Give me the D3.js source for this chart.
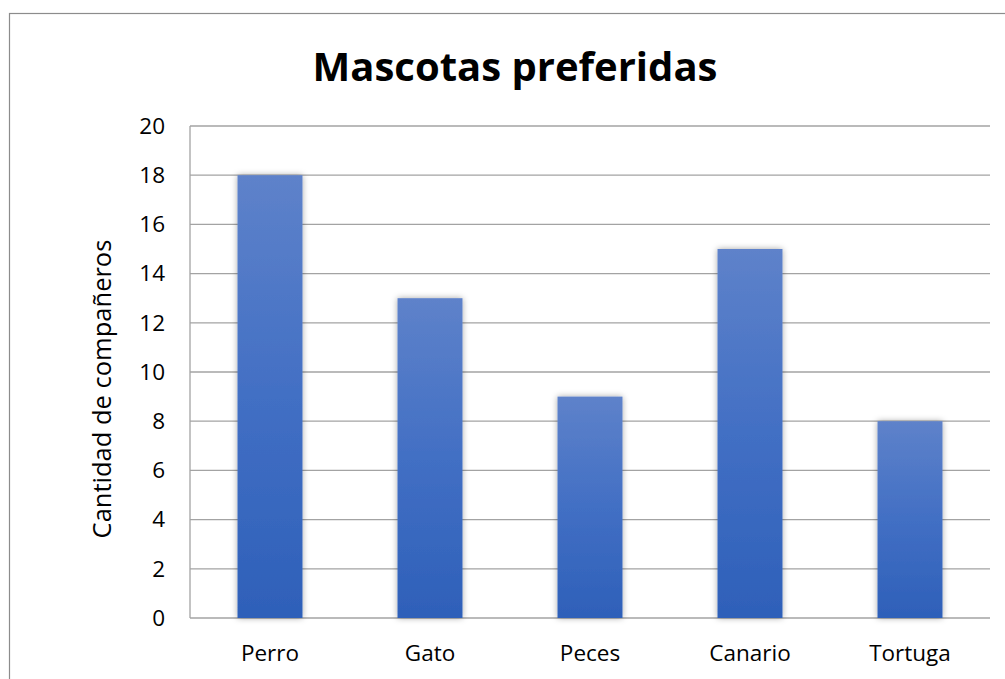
<!DOCTYPE html>
<html>
<head>
<meta charset="utf-8">
<script src="https://cdn.jsdelivr.net/npm/d3@7"></script>
<style>
  html, body { margin: 0; padding: 0; background: #fff; }
  svg { display: block; }
  text { font-family: "Open Sans", "Noto Sans", sans-serif; fill: #000; }
</style>
</head>
<body>
<svg id="chart" width="1005" height="679"></svg>
<script>
const categories = ["Perro", "Gato", "Peces", "Canario", "Tortuga"];
const values = [18, 13, 9, 15, 8];
const yTicks = [0, 2, 4, 6, 8, 10, 12, 14, 16, 18, 20];
const title = "Mascotas preferidas";
const yTitle = "Cantidad de compañeros";

const svg = d3.select("#chart");
const W = 1005, H = 679;
const m = { left: 190, right: 15, top: 126, bottom: 61 };

// outer chart border
svg.append("rect").attr("x", 9.5).attr("y", 13.5)
  .attr("width", W + 10).attr("height", H + 10)
  .attr("fill", "#fff").attr("stroke", "#8c8c8c").attr("stroke-width", 1.2);

const defs = svg.append("defs");
const grad = defs.append("linearGradient").attr("id", "barGrad")
  .attr("x1", 0).attr("y1", 0).attr("x2", 0).attr("y2", 1);
grad.append("stop").attr("offset", "0%").attr("stop-color", "#5e82ca");
grad.append("stop").attr("offset", "50%").attr("stop-color", "#426fc4");
grad.append("stop").attr("offset", "100%").attr("stop-color", "#2e60b9");
const f = defs.append("filter").attr("id", "shadow")
  .attr("x", "-30%").attr("y", "-10%").attr("width", "160%").attr("height", "120%");
f.append("feDropShadow").attr("dx", 0).attr("dy", 0).attr("stdDeviation", 3)
  .attr("flood-color", "#000").attr("flood-opacity", 0.35);

const x = d3.scaleBand().domain(categories)
  .range([m.left, W - m.right]).paddingInner(0.594).paddingOuter(0.297);
const y = d3.scaleLinear().domain([0, 20]).range([H - m.bottom, m.top]);

// gridlines
svg.append("g").selectAll("line").data(yTicks).join("line")
  .attr("x1", m.left).attr("x2", W - m.right)
  .attr("y1", d => y(d)).attr("y2", d => y(d))
  .attr("stroke", "#a3a3a3").attr("stroke-width", 1.3);

// left axis line
svg.append("line").attr("x1", m.left).attr("x2", m.left)
  .attr("y1", y(20)).attr("y2", y(0))
  .attr("stroke", "#a3a3a3").attr("stroke-width", 1.3);

// bars
svg.append("g").selectAll("rect").data(categories).join("rect")
  .attr("x", d => x(d)).attr("width", x.bandwidth())
  .attr("y", (d, i) => y(values[i]))
  .attr("height", (d, i) => y(0) - y(values[i]))
  .attr("fill", "url(#barGrad)")
  .attr("filter", "url(#shadow)");

// y axis labels
const yAxis = d3.axisLeft(y).tickValues(yTicks).tickSize(0).tickPadding(0);
const gy = svg.append("g").attr("transform", `translate(${m.left - 25},0)`).call(yAxis);
gy.select(".domain").remove();
gy.selectAll("text").attr("font-size", 22.5).attr("font-family", "Open Sans, sans-serif").attr("fill", "#000");

// x axis labels
const xAxis = d3.axisBottom(x).tickSize(0).tickPadding(0);
const gx = svg.append("g").attr("transform", `translate(0,${H - m.bottom + 27})`).call(xAxis);
gx.select(".domain").remove();
gx.selectAll("text").attr("font-size", 22.5).attr("font-family", "Open Sans, sans-serif").attr("fill", "#000");

// title
svg.append("text").attr("x", 515).attr("y", 81)
  .attr("text-anchor", "middle").attr("font-size", 40).attr("font-weight", "bold")
  .text(title);

// y title
svg.append("text")
  .attr("transform", `translate(111,389) rotate(-90)`)
  .attr("text-anchor", "middle").attr("font-size", 25.5)
  .text(yTitle);
</script>
</body>
</html>
